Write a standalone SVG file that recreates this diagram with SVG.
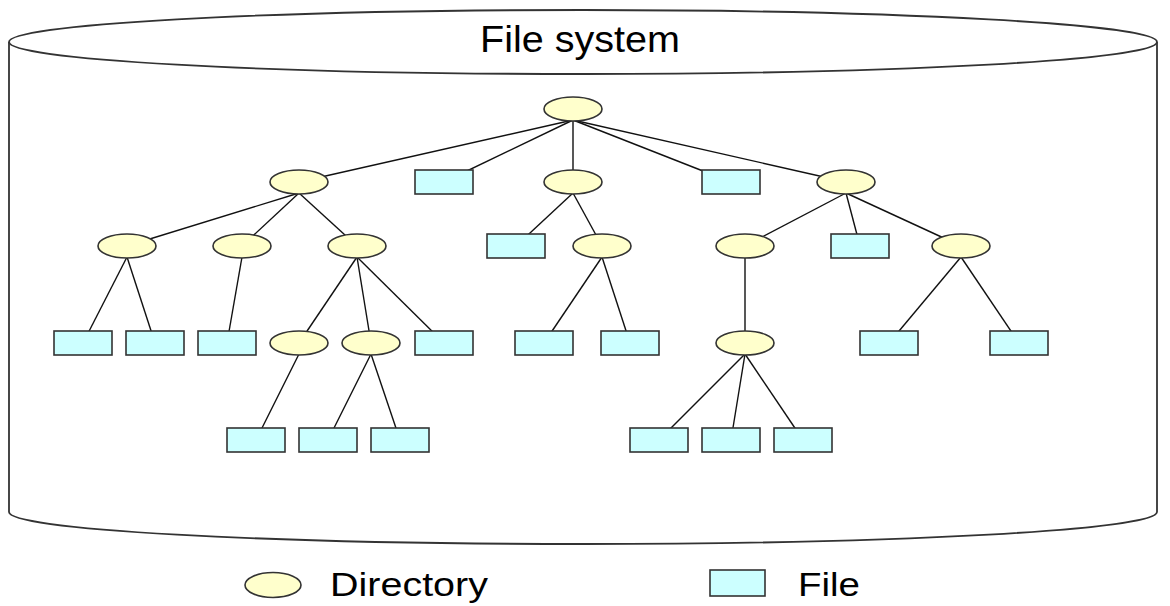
<svg xmlns="http://www.w3.org/2000/svg" width="1170" height="606" viewBox="0 0 1170 606">
<style>
.dir{fill:#ffffcc;stroke:#333;stroke-width:1.6}
.file{fill:#ccffff;stroke:#333;stroke-width:1.6}
.edge{stroke:#111;stroke-width:1.4;fill:none}
.lbl{font-family:"Liberation Sans",Arial,sans-serif;fill:#000}
.cyl{fill:#fff;stroke:#333;stroke-width:1.8}
</style>
<defs>
<ellipse id="d" class="dir" cx="0" cy="0" rx="29" ry="12"/>
<rect id="f" class="file" x="-29" y="-12" width="58" height="24"/>
</defs>
<g id="cylinder">
<path class="cyl" d="M9,42 L9,512 A574,32 0 0 0 1157,512 L1157,42"/>
<ellipse class="cyl" cx="583" cy="42" rx="574" ry="32"/>
<text class="lbl" x="480" y="52" font-size="36" textLength="200" lengthAdjust="spacingAndGlyphs">File system</text>
</g>
<g id="connectors">
<line class="edge" x1="573" y1="120" x2="299" y2="182"/>
<line class="edge" x1="573" y1="120" x2="444" y2="182"/>
<line class="edge" x1="573" y1="120" x2="573" y2="182"/>
<line class="edge" x1="573" y1="120" x2="731" y2="182"/>
<line class="edge" x1="573" y1="120" x2="846" y2="182"/>
<line class="edge" x1="299" y1="193" x2="127" y2="246"/>
<line class="edge" x1="299" y1="193" x2="242" y2="246"/>
<line class="edge" x1="299" y1="193" x2="357" y2="246"/>
<line class="edge" x1="127" y1="257" x2="83" y2="343"/>
<line class="edge" x1="127" y1="257" x2="155" y2="343"/>
<line class="edge" x1="242" y1="257" x2="227" y2="343"/>
<line class="edge" x1="357" y1="257" x2="299" y2="343"/>
<line class="edge" x1="357" y1="257" x2="371" y2="343"/>
<line class="edge" x1="357" y1="257" x2="444" y2="343"/>
<line class="edge" x1="299" y1="354" x2="256" y2="440"/>
<line class="edge" x1="371" y1="354" x2="328" y2="440"/>
<line class="edge" x1="371" y1="354" x2="400" y2="440"/>
<line class="edge" x1="573" y1="193" x2="516" y2="246"/>
<line class="edge" x1="573" y1="193" x2="602" y2="246"/>
<line class="edge" x1="602" y1="257" x2="544" y2="343"/>
<line class="edge" x1="602" y1="257" x2="630" y2="343"/>
<line class="edge" x1="846" y1="193" x2="745" y2="246"/>
<line class="edge" x1="846" y1="193" x2="860" y2="246"/>
<line class="edge" x1="846" y1="193" x2="961" y2="246"/>
<line class="edge" x1="745" y1="257" x2="745" y2="343"/>
<line class="edge" x1="745" y1="354" x2="659" y2="440"/>
<line class="edge" x1="745" y1="354" x2="731" y2="440"/>
<line class="edge" x1="745" y1="354" x2="803" y2="440"/>
<line class="edge" x1="961" y1="257" x2="889" y2="343"/>
<line class="edge" x1="961" y1="257" x2="1019" y2="343"/>
</g>
<g id="root"><use href="#d" x="573" y="109"/></g>
<g id="d1"><use href="#d" x="299" y="182"/></g>
<g id="f1"><use href="#f" x="444" y="182"/></g>
<g id="d2"><use href="#d" x="573" y="182"/></g>
<g id="f2"><use href="#f" x="731" y="182"/></g>
<g id="d3"><use href="#d" x="846" y="182"/></g>
<g id="d11"><use href="#d" x="127" y="246"/></g>
<g id="d12"><use href="#d" x="242" y="246"/></g>
<g id="d13"><use href="#d" x="357" y="246"/></g>
<g id="f21"><use href="#f" x="516" y="246"/></g>
<g id="d22"><use href="#d" x="602" y="246"/></g>
<g id="d31"><use href="#d" x="745" y="246"/></g>
<g id="f32"><use href="#f" x="860" y="246"/></g>
<g id="d33"><use href="#d" x="961" y="246"/></g>
<g id="f111"><use href="#f" x="83" y="343"/></g>
<g id="f112"><use href="#f" x="155" y="343"/></g>
<g id="f121"><use href="#f" x="227" y="343"/></g>
<g id="d131"><use href="#d" x="299" y="343"/></g>
<g id="d132"><use href="#d" x="371" y="343"/></g>
<g id="f133"><use href="#f" x="444" y="343"/></g>
<g id="f221"><use href="#f" x="544" y="343"/></g>
<g id="f222"><use href="#f" x="630" y="343"/></g>
<g id="d311"><use href="#d" x="745" y="343"/></g>
<g id="f331"><use href="#f" x="889" y="343"/></g>
<g id="f332"><use href="#f" x="1019" y="343"/></g>
<g id="f1311"><use href="#f" x="256" y="440"/></g>
<g id="f1321"><use href="#f" x="328" y="440"/></g>
<g id="f1322"><use href="#f" x="400" y="440"/></g>
<g id="f3111"><use href="#f" x="659" y="440"/></g>
<g id="f3112"><use href="#f" x="731" y="440"/></g>
<g id="f3113"><use href="#f" x="803" y="440"/></g>
<g id="legend-dir">
<ellipse class="dir" cx="273" cy="585" rx="28" ry="12.5"/>
<text class="lbl" x="330" y="596" font-size="33" textLength="158" lengthAdjust="spacingAndGlyphs">Directory</text>
</g>
<g id="legend-file">
<rect class="file" x="710" y="570" width="55" height="26"/>
<text class="lbl" x="798" y="596" font-size="33" textLength="62" lengthAdjust="spacingAndGlyphs">File</text>
</g>
</svg>
